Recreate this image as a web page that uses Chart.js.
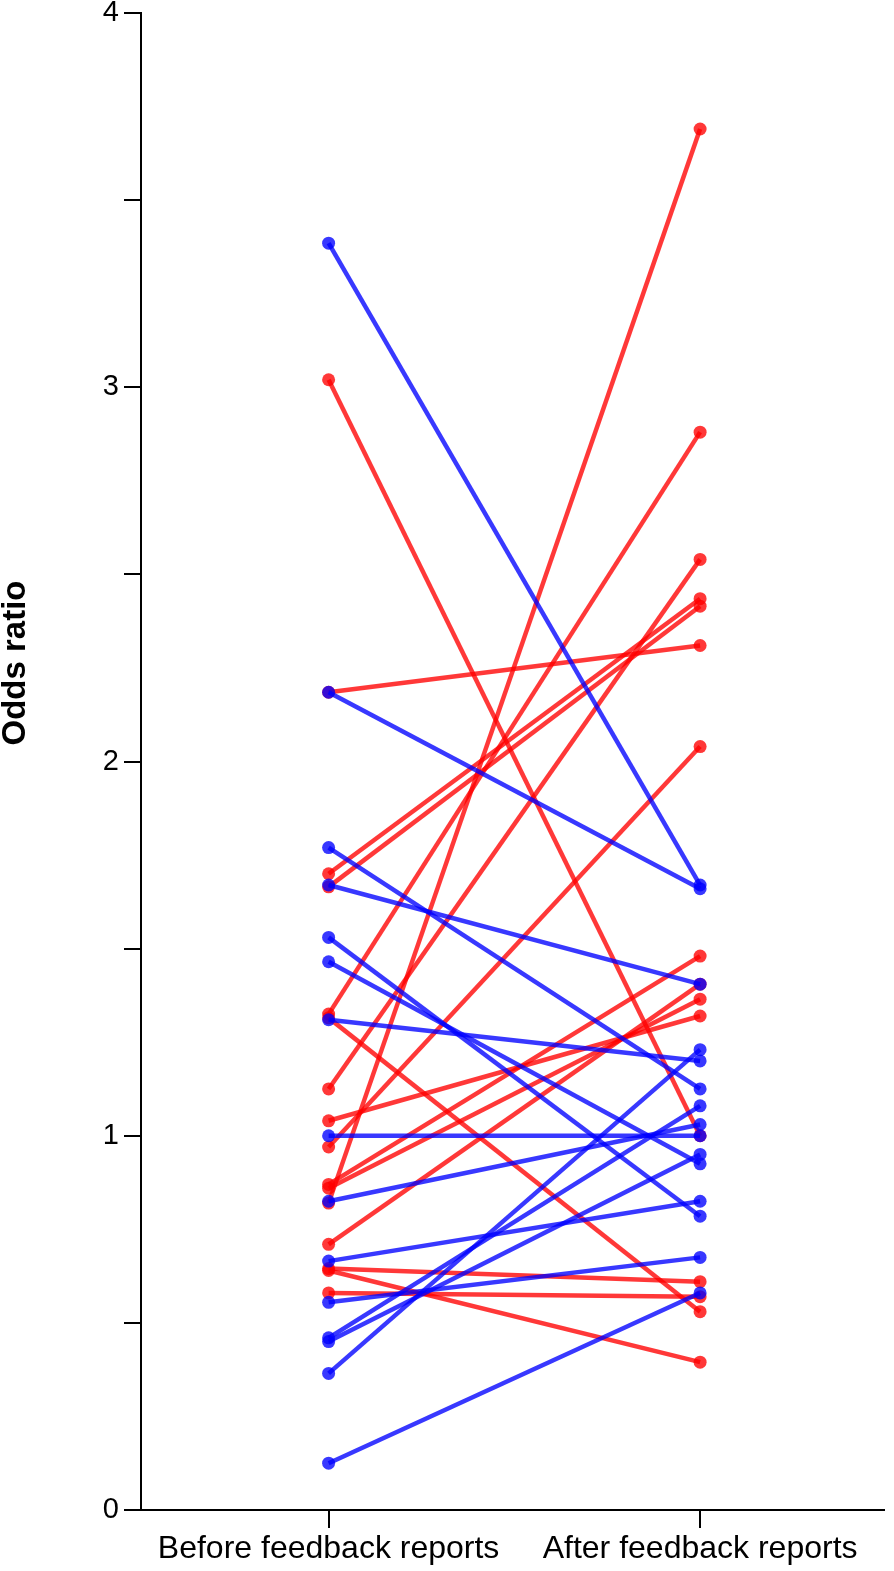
<!DOCTYPE html>
<html>
<head>
<meta charset="utf-8">
<script src="https://cdn.jsdelivr.net/npm/chart.js@4.4.1/dist/chart.umd.min.js"></script>
<style>
    html, body { margin: 0; padding: 0; background: #fff; }
    #wrap { width: 894px; height: 1571px; }
</style>
</head>
<body>
<div id="wrap"><canvas id="oddsChart" width="894" height="1571"></canvas></div>
<script>
// Odds ratio per unit, before and after the feedback reports

const categories = ['Before feedback reports', 'After feedback reports'];
const yTickLabels = [0, 1, 2, 3, 4];
const yTitle = 'Odds ratio';

// red group: value before -> value after (same index)
const redBefore = [3.02, 2.185, 1.70, 1.665, 1.325, 1.315, 1.125, 1.04, 0.97, 0.87, 0.86, 0.82, 0.71, 0.645, 0.64, 0.58];
const redAfter  = [1.00, 2.31, 2.435, 2.415, 2.88, 0.53, 2.54, 1.32, 2.04, 1.48, 1.365, 3.69, 1.405, 0.61, 0.395, 0.57];

// blue group
const blueBefore = [3.385, 2.185, 1.77, 1.67, 1.53, 1.465, 1.31, 1.00, 0.825, 0.665, 0.555, 0.46, 0.45, 0.365, 0.125];
const blueAfter  = [1.67, 1.66, 1.125, 1.405, 0.785, 0.925, 1.20, 1.00, 1.03, 0.825, 0.675, 1.08, 0.95, 1.23, 0.58];

const RED = 'rgba(255, 0, 0, 0.78)';
const BLUE = 'rgba(0, 0, 255, 0.78)';
const FONT = '"Liberation Sans", Arial, Helvetica, sans-serif';

function makePairs(before, after, color) {
    return before.map((b, i) => ({
        data: [{ x: 0, y: b }, { x: 1, y: after[i] }],
        borderColor: color,
        backgroundColor: color,
        borderWidth: 4.5,
        pointRadius: 6.5,
        pointBorderWidth: 0,
        pointBackgroundColor: color,
        tension: 0,
        fill: false
    }));
}

// rotated y title, sits a bit above the axis middle like the original
const yTitlePlugin = {
    id: 'yTitle',
    afterDraw(chart) {
        const ctx = chart.ctx;
        ctx.save();
        ctx.translate(16, 663);
        ctx.rotate(-Math.PI / 2);
        ctx.font = 'bold 33px ' + FONT;
        ctx.fillStyle = '#000';
        ctx.textAlign = 'center';
        ctx.textBaseline = 'middle';
        ctx.fillText(yTitle, 0, 0);
        ctx.restore();
    }
};

const ctx = document.getElementById('oddsChart').getContext('2d');
new Chart(ctx, {
    type: 'line',
    data: {
        datasets: [
            ...makePairs(blueBefore, blueAfter, BLUE),
            ...makePairs(redBefore, redAfter, RED)
        ]
    },
    options: {
        responsive: false,
        animation: false,
        layout: { padding: { top: 0, right: 10, bottom: 0, left: 0 } },
        plugins: {
            legend: { display: false },
            tooltip: { enabled: false }
        },
        scales: {
            x: {
                type: 'linear',
                min: -0.505,
                max: 1.495,
                grid: {
                    drawOnChartArea: false,
                    color: '#000',
                    lineWidth: 2,
                    tickLength: 18
                },
                border: { color: '#000', width: 2 },
                afterBuildTicks: (s) => {
                    s.ticks = categories.map((c, i) => ({ value: i }));
                },
                ticks: {
                    color: '#000',
                    font: { family: FONT, size: 32 },
                    padding: 2,
                    maxRotation: 0,
                    autoSkip: false,
                    callback: (v) => categories[v]
                },
                afterFit: (s) => {
                    s.height = 61;
                    s.paddingLeft = 0;
                    s.paddingRight = 0;
                }
            },
            y: {
                min: 0,
                max: 4,
                grid: {
                    drawOnChartArea: false,
                    color: '#000',
                    lineWidth: 2,
                    tickLength: 17
                },
                border: { color: '#000', width: 2 },
                ticks: {
                    stepSize: 0.5,
                    color: '#000',
                    font: { family: FONT, size: 29 },
                    padding: 5,
                    callback: (v) => yTickLabels.includes(v) ? String(v) : ''
                },
                afterFit: (s) => {
                    s.width = 141;
                    s.paddingTop = 13;
                    s.paddingBottom = 0;
                }
            }
        }
    },
    plugins: [yTitlePlugin]
});
</script>
</body>
</html>
